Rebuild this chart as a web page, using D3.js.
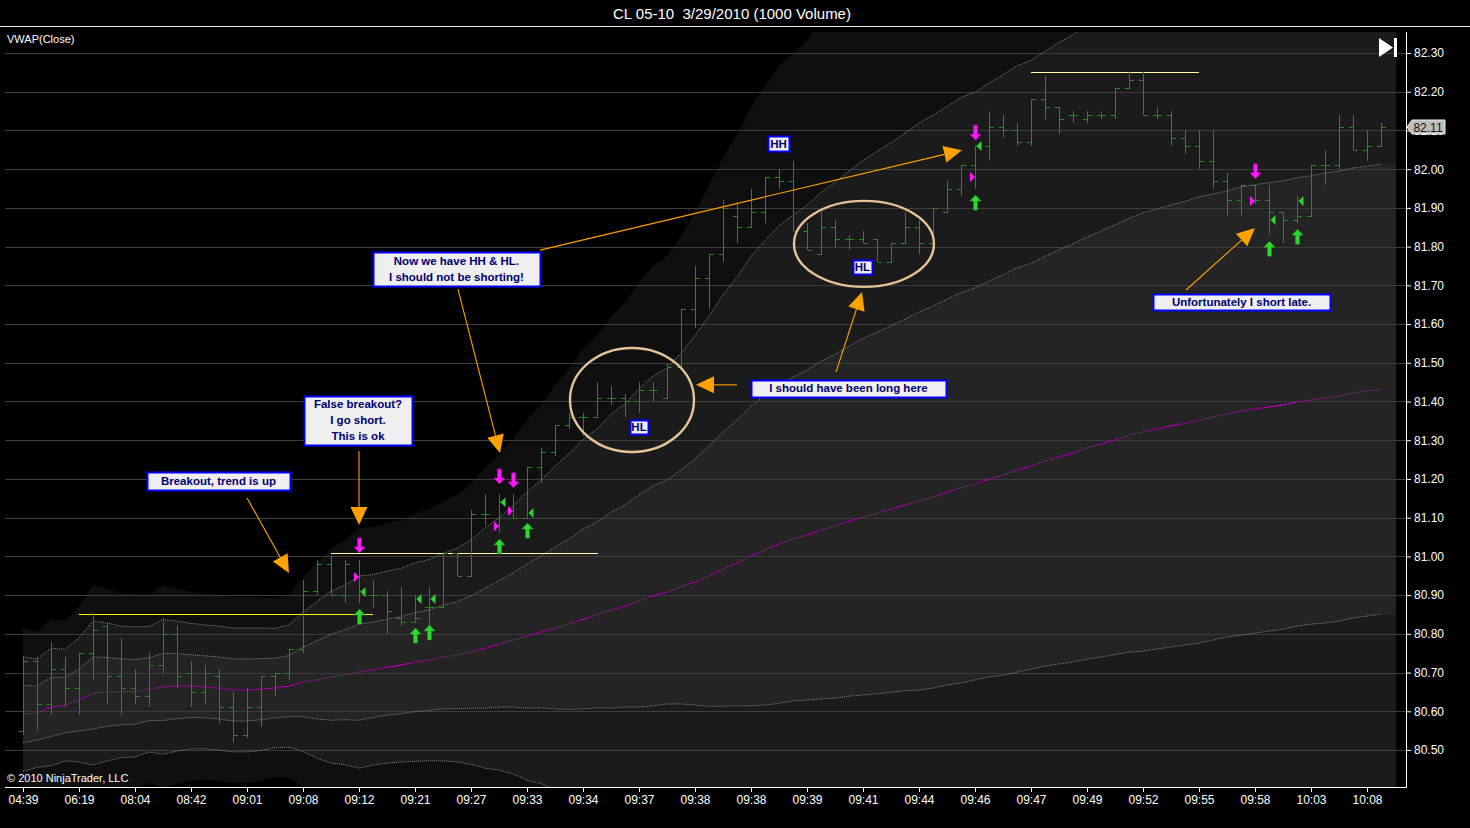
<!DOCTYPE html>
<html><head><meta charset="utf-8">
<script src="https://cdn.jsdelivr.net/npm/d3@7"></script>
<style>
html,body{margin:0;padding:0;background:#000;overflow:hidden;}
svg{display:block;}
</style></head><body>
<svg id="c" width="1470" height="828"></svg>
<script>
// ---------------- DATA ----------------
const chartTitle = "CL 05-10  3/29/2010 (1000 Volume)";
const indicatorLabel = "VWAP(Close)";
const copyrightLabel = "\u00A9 2010 NinjaTrader, LLC";

const opens = [80.55,80.73,80.62,80.71,80.66,80.75,80.82,80.69,80.66,80.64, 80.72,80.80,80.70,80.65,80.69,80.61,80.54,80.61,80.69,80.70,
  80.76,80.91,80.98,80.90,80.95,80.90,80.90,80.84,80.83,80.87, 80.87,81.01,80.95,81.11,81.08,81.12,81.10,81.23,81.27,81.34,
  81.36,81.36,81.41,81.41,81.40,81.43,81.41,81.49,81.64,81.72, 81.78,81.88,81.85,81.89,81.98,81.97,81.84,81.78,81.85,81.82,
  81.82,81.82,81.76,81.81,81.85,81.81,81.89,81.95,82.01,82.06, 82.11,82.10,82.07,82.18,82.16,82.14,82.13,82.14,82.14,82.21,
  82.23,82.14,82.14,82.08,82.06,82.02,81.97,81.92,81.96,81.92, 81.89,81.87,81.88,82.01,82.01,82.11,82.05,82.06];
const highs = [80.74,80.74,80.78,80.74,80.75,80.85,80.83,80.79,80.71,80.75, 80.84,80.82,80.73,80.72,80.71,80.65,80.66,80.69,80.70,80.76,
  80.94,80.99,81.00,80.99,80.99,80.94,80.91,80.92,80.90,80.92, 81.01,81.01,81.12,81.16,81.16,81.16,81.23,81.28,81.34,81.37,
  81.37,81.45,81.44,81.42,81.45,81.45,81.50,81.64,81.75,81.78, 81.92,81.91,81.95,81.98,82.00,82.02,81.86,81.89,81.87,81.83,
  81.84,81.82,81.81,81.89,81.87,81.90,81.97,82.01,82.06,82.15, 82.14,82.12,82.18,82.24,82.16,82.15,82.15,82.15,82.21,82.25,
  82.25,82.16,82.15,82.10,82.10,82.10,81.99,81.96,81.96,81.96, 81.89,81.93,82.01,82.05,82.14,82.14,82.10,82.12];
const lows = [80.54,80.55,80.59,80.61,80.59,80.68,80.62,80.59,80.62,80.61, 80.70,80.66,80.61,80.62,80.57,80.52,80.53,80.56,80.64,80.68,
  80.75,80.90,80.90,80.88,80.88,80.87,80.80,80.82,80.83,80.81, 80.87,80.95,80.95,81.08,81.06,81.10,81.10,81.19,81.26,81.33,
  81.31,81.36,81.39,81.36,81.37,81.40,81.41,81.49,81.59,81.64, 81.76,81.81,81.85,81.86,81.95,81.84,81.79,81.78,81.80,81.79,
  81.81,81.76,81.76,81.81,81.78,81.78,81.89,81.93,81.95,82.02, 82.08,82.06,82.06,82.13,82.09,82.12,82.12,82.13,82.13,82.21,
  82.14,82.13,82.06,82.04,82.00,81.95,81.88,81.88,81.91,81.83, 81.81,81.86,81.88,81.96,82.00,82.05,82.02,82.06];
const closes = [80.73,80.62,80.71,80.66,80.75,80.81,80.69,80.66,80.64,80.72, 80.80,80.69,80.65,80.70,80.61,80.54,80.61,80.69,80.70,80.76,
  80.91,80.98,80.90,80.98,80.91,80.90,80.86,80.83,80.84,80.87, 81.01,80.95,81.11,81.11,81.14,81.10,81.23,81.27,81.34,81.36,
  81.36,81.41,81.41,81.40,81.43,81.43,81.49,81.64,81.72,81.78, 81.90,81.85,81.89,81.98,81.97,81.84,81.79,81.85,81.82,81.82,
  81.81,81.76,81.81,81.85,81.81,81.90,81.95,82.01,82.06,82.11, 82.10,82.07,82.18,82.16,82.13,82.14,82.14,82.14,82.21,82.23,
  82.14,82.14,82.08,82.06,82.02,81.97,81.92,81.96,81.92,81.89, 81.87,81.88,82.01,82.01,82.11,82.05,82.06,82.11];

const vwap = [80.593,80.595,80.611,80.616,80.629,80.647,80.650,80.650,80.650,80.657, 80.663,80.665,80.665,80.663,80.660,80.655,80.655,80.657,80.660,80.665,
  80.676,80.681,80.688,80.694,80.701,80.707,80.714,80.719,80.727,80.732, 80.740,80.745,80.753,80.763,80.774,80.784,80.794,80.805,80.815,80.825,
  80.838,80.849,80.861,80.872,80.885,80.898,80.908,80.921,80.934,80.949, 80.967,80.983,81.001,81.016,81.032,81.045,81.055,81.068,81.078,81.091,
  81.102,81.112,81.122,81.133,81.143,81.153,81.166,81.177,81.187,81.200, 81.210,81.223,81.233,81.246,81.257,81.267,81.280,81.290,81.301,81.313,
  81.321,81.329,81.337,81.344,81.352,81.360,81.368,81.375,81.381,81.386, 81.391,81.399,81.404,81.409,81.414,81.422,81.427,81.432];
const vwapDev = [0.074,0.070,0.076,0.072,0.080,0.093,0.089,0.085,0.084,0.081, 0.087,0.084,0.081,0.080,0.080,0.080,0.080,0.079,0.077,0.079,
  0.090,0.101,0.111,0.116,0.124,0.123,0.124,0.125,0.128,0.130, 0.134,0.138,0.145,0.155,0.163,0.173,0.186,0.196,0.209,0.220,
  0.232,0.240,0.253,0.261,0.274,0.284,0.289,0.302,0.318,0.336, 0.354,0.369,0.387,0.400,0.411,0.418,0.426,0.436,0.444,0.452,
  0.460,0.467,0.473,0.480,0.488,0.493,0.498,0.504,0.506,0.511, 0.517,0.522,0.524,0.529,0.535,0.540,0.545,0.550,0.555,0.560,
  0.566,0.568,0.571,0.573,0.576,0.576,0.576,0.579,0.579,0.579, 0.579,0.579,0.579,0.581,0.581,0.581,0.581,0.581];

const xTickBars = [0,4,8,12,16,20,24,28,32,36,40,44,48,52,56,60,64,68,72,76,80,84,88,92,96];
const xTickLabels = ["04:39","06:19","08:04","08:42","09:01","09:08","09:12","09:21","09:27","09:33","09:34","09:37","09:38",
  "09:38","09:39","09:41","09:44","09:46","09:47","09:49","09:52","09:55","09:58","10:03","10:08"];
const yTickValues = [80.5,80.6,80.7,80.8,80.9,81.0,81.1,81.2,81.3,81.4,81.5,81.6,81.7,81.8,81.9,82.0,82.1,82.2,82.3];
const lastPrice = 82.11;

// trade markers (bar index, price)
const shortArrowBars = [24,34,35,68,88];
const shortArrowPrices = [81.009,81.187,81.177,82.075,81.975];
const coverArrowBars = [24,28,29,34,36,68,89,91];
const coverArrowPrices = [80.864,80.815,80.823,81.045,81.086,81.933,81.814,81.845];
const entryBars = [24,34,35,68,88];
const entryPrices = [80.947,81.078,81.117,81.980,81.918];
const exitBars = [24,28,29,34,36,68,89,91];
const exitPrices = [80.908,80.890,80.890,81.140,81.112,82.060,81.869,81.918];

// drawn horizontal levels
const levelPrices = [80.85,81.01,82.25];
const levelFromBar = [4,22,72];
const levelToBar = [25,41.07,84];

// text notes, anchored at (bar, price)
const noteTexts = [["Breakout, trend is up"],["False breakout?","I go short.","This is ok"],["Now we have HH & HL.","I should not be shorting!"],
  ["HH"],["HL"],["HL"],["I should have been long here"],["Unfortunately I short late."]];
const noteBars = [13.96,23.93,30.96,53.96,44.0,59.96,58.96,87.04];
const notePrices = [81.195,81.351,81.742,82.066,81.334,81.747,81.434,81.657];

// arrows from (bar, price) to (bar, price)
const arrowFromBars = [16.0,24,31.07,36.93,51.0,58.07,83.07];
const arrowFromPrices = [81.151,81.272,81.690,81.791,81.443,81.476,81.688];
const arrowToBars = [19.0,24,34.07,67.07,48.07,59.93,88.0];
const arrowToPrices = [80.957,81.081,81.267,82.049,81.443,81.683,81.848];

// circled areas, centre (bar, price)
const circleBars = [43.5,60.07];
const circlePrices = [81.404,81.807];

// ---------------- LAYOUT / STYLE ----------------
const W = 1470, H = 828;
const P = {left:3, right:1406, top:32, bottom:787};
const noteSizes = [[143,18],[108,49],[167,34],[21,15],[18,14],[19,14],[195,17],[177,16]];
const circleRadii = [[62,52],[70,43]];
const FONT = '"Liberation Sans", Arial, sans-serif';

const n = opens.length;
const x = d3.scaleLinear().domain([0, n - 1]).range([23, 1381]);
const y = d3.scaleLinear().domain([80.5, 82.3]).range([750, 53]);

const svg = d3.select('#c');
svg.append('rect').attr('width', W).attr('height', H).attr('fill', '#000');

svg.append('defs').append('clipPath').attr('id', 'plotclip')
  .append('rect').attr('x', P.left).attr('y', P.top).attr('width', P.right - P.left).attr('height', P.bottom - P.top);

// title + top rule
svg.append('text').attr('x', 732).attr('y', 19).attr('text-anchor', 'middle').attr('fill', '#fff')
  .style('font', '15px ' + FONT).style('white-space', 'pre').text(chartTitle);
svg.append('line').attr('x1', 0).attr('x2', W).attr('y1', 26.5).attr('y2', 26.5).attr('stroke', '#e8e8e8');

const plot = svg.append('g').attr('clip-path', 'url(#plotclip)');

// VWAP deviation bands (fills)
const bandPts = d3.range(n).map(i => ({px: x(i), v: vwap[i], s: vwapDev[i]}));
bandPts.push({px: 1396, v: vwap[n - 1], s: vwapDev[n - 1]});
const bandFill = [[3, '#0f0f0f'], [2, '#1b1b1b'], [1, '#242424']];
bandFill.forEach(([k, col]) => {
  plot.append('path').datum(bandPts)
    .attr('d', d3.area().x(d => d.px).y0(d => y(d.v - k * d.s)).y1(d => y(d.v + k * d.s)))
    .attr('fill', col);
});

// grid
plot.append('g').selectAll('line').data(yTickValues).join('line')
  .attr('x1', 5).attr('x2', P.right).attr('y1', d => Math.round(y(d)) + 0.5).attr('y2', d => Math.round(y(d)) + 0.5)
  .attr('stroke', '#3d3d3d').attr('stroke-width', 1);

// band lines
const linePts = d3.range(n).map(i => ({px: x(i), v: vwap[i], s: vwapDev[i]}));
[2, 1, -1, -2].forEach(k => {
  plot.append('path').datum(linePts)
    .attr('d', d3.line().x(d => d.px).y(d => y(d.v + k * d.s)))
    .attr('fill', 'none').attr('stroke', '#858585').attr('stroke-width', 1).attr('stroke-dasharray', '1 1');
});
plot.append('path').datum(linePts)
  .attr('d', d3.line().x(d => d.px).y(d => y(d.v)))
  .attr('fill', 'none').attr('stroke', '#d200d2').attr('stroke-width', 1.2).attr('stroke-dasharray', '1 1');

// level lines
plot.append('g').selectAll('line').data(levelPrices).join('line')
  .attr('x1', (d, i) => x(levelFromBar[i])).attr('x2', (d, i) => x(levelToBar[i]))
  .attr('y1', d => Math.round(y(d)) + 0.5).attr('y2', d => Math.round(y(d)) + 0.5)
  .attr('stroke', (d, i) => i === 0 ? '#ffff00' : '#ffffb0').attr('stroke-width', 1.2);

// OHLC bars
const barG = plot.append('g').attr('stroke', '#1a8f1a').attr('stroke-width', 1).attr('shape-rendering', 'crispEdges');
const bars = barG.selectAll('g').data(d3.range(n)).join('g');
bars.append('line').attr('x1', i => x(i) + 0.5).attr('x2', i => x(i) + 0.5).attr('y1', i => y(highs[i])).attr('y2', i => y(lows[i]));
bars.append('line').attr('x1', i => x(i) - 4).attr('x2', i => x(i) + 0.5).attr('y1', i => Math.round(y(opens[i])) + 0.5).attr('y2', i => Math.round(y(opens[i])) + 0.5);
bars.append('line').attr('x1', i => x(i) + 0.5).attr('x2', i => x(i) + 5).attr('y1', i => Math.round(y(closes[i])) + 0.5).attr('y2', i => Math.round(y(closes[i])) + 0.5);

// ellipses
plot.append('g').selectAll('ellipse').data(circleBars).join('ellipse')
  .attr('cx', (d, i) => x(d)).attr('cy', (d, i) => y(circlePrices[i]))
  .attr('rx', (d, i) => circleRadii[i][0]).attr('ry', (d, i) => circleRadii[i][1])
  .attr('fill', 'none').attr('stroke', '#e6c397').attr('stroke-width', 2.4);

// trade markers
function arrowPath(cx, tipY, dir) { // dir 1 = pointing down, -1 = pointing up
  const s = dir;
  return `M${cx},${tipY} L${cx - 5.5},${tipY - s * 6} L${cx - 2},${tipY - s * 6} L${cx - 2},${tipY - s * 15} L${cx + 2},${tipY - s * 15} L${cx + 2},${tipY - s * 6} L${cx + 5.5},${tipY - s * 6} Z`;
}
const mk = plot.append('g');
mk.selectAll('path.sh').data(shortArrowBars).join('path').attr('class', 'sh')
  .attr('d', (d, i) => arrowPath(x(d) + 0.5, y(shortArrowPrices[i]), 1)).attr('fill', '#ff1aff').attr('stroke', '#c000c0').attr('stroke-width', 0.6);
mk.selectAll('path.cv').data(coverArrowBars).join('path').attr('class', 'cv')
  .attr('d', (d, i) => arrowPath(x(d) + 0.5, y(coverArrowPrices[i]), -1)).attr('fill', '#2fd62f').attr('stroke', '#1ea01e').attr('stroke-width', 0.6);
mk.selectAll('path.en').data(entryBars).join('path').attr('class', 'en')
  .attr('d', (d, i) => { const cx = x(d), cy = y(entryPrices[i]); return `M${cx - 5},${cy - 5} L${cx},${cy} L${cx - 5},${cy + 5} Z`; })
  .attr('fill', '#ff1aff');
mk.selectAll('path.ex').data(exitBars).join('path').attr('class', 'ex')
  .attr('d', (d, i) => { const cx = x(d) + 1.5, cy = y(exitPrices[i]); return `M${cx + 5},${cy - 5} L${cx},${cy} L${cx + 5},${cy + 5} Z`; })
  .attr('fill', '#2fd62f');

// orange arrows
const ag = svg.append('g');
arrowFromBars.forEach((b, i) => {
  const x0 = x(b), y0 = y(arrowFromPrices[i]), x1 = x(arrowToBars[i]), y1 = y(arrowToPrices[i]);
  const dx = x1 - x0, dy = y1 - y0, L = Math.hypot(dx, dy), ux = dx / L, uy = dy / L;
  const hl = 18, hw = 8.5;
  const bx = x1 - ux * hl, by = y1 - uy * hl;
  ag.append('line').attr('x1', x0).attr('y1', y0).attr('x2', bx).attr('y2', by).attr('stroke', '#ffa200').attr('stroke-width', 1.1);
  ag.append('path').attr('d', `M${x1},${y1} L${bx - uy * hw},${by + ux * hw} L${bx + uy * hw},${by - ux * hw} Z`).attr('fill', '#ffa200');
});

// note boxes
const ng = svg.append('g');
noteTexts.forEach((lines, i) => {
  const cx = x(noteBars[i]), cy = y(notePrices[i]);
  const [w, h] = noteSizes[i];
  ng.append('rect').attr('x', Math.round(cx - w / 2) + 0.5).attr('y', Math.round(cy - h / 2) + 0.5).attr('width', w).attr('height', h)
    .attr('fill', '#efefef').attr('stroke', '#0000ff').attr('stroke-width', 2);
  const lh = 16;
  lines.forEach((t, j) => {
    ng.append('text').attr('x', cx).attr('y', cy + (j - (lines.length - 1) / 2) * lh + 4)
      .attr('text-anchor', 'middle').attr('fill', '#000070')
      .style('font', 'bold 11.5px ' + FONT).text(t);
  });
});

// indicator + copyright labels
svg.append('text').attr('x', 7).attr('y', 43).attr('fill', '#fff').style('font', '11px ' + FONT).text(indicatorLabel);
svg.append('text').attr('x', 7).attr('y', 782).attr('fill', '#fff').style('font', '11px ' + FONT).text(copyrightLabel);

// scroll-to-end icon
svg.append('path').attr('d', 'M1379,38 L1379,57 L1393,47.5 Z').attr('fill', '#fff');
svg.append('rect').attr('x', 1394).attr('y', 38).attr('width', 3).attr('height', 19).attr('fill', '#fff');

// Y axis
const yAxis = svg.append('g').attr('transform', `translate(${P.right},0)`)
  .call(d3.axisRight(y).tickValues(yTickValues).tickSize(5).tickPadding(3).tickFormat(d3.format('.2f')));
yAxis.select('.domain').remove();
yAxis.selectAll('line').attr('stroke', '#fff');
yAxis.selectAll('text').attr('fill', '#fff').style('font', '12px ' + FONT);
svg.append('line').attr('x1', P.right + 0.5).attr('x2', P.right + 0.5).attr('y1', P.top).attr('y2', P.bottom + 1).attr('stroke', '#fff');

// X axis
const xAxis = svg.append('g').attr('transform', `translate(0,${P.bottom})`)
  .call(d3.axisBottom(x).tickValues(xTickBars).tickSize(5).tickPadding(3).tickFormat((d, i) => xTickLabels[i]));
xAxis.select('.domain').remove();
xAxis.selectAll('line').attr('stroke', '#fff');
xAxis.selectAll('text').attr('fill', '#fff').style('font', '12px ' + FONT);
svg.append('line').attr('x1', 5).attr('x2', P.right + 1).attr('y1', P.bottom + 0.5).attr('y2', P.bottom + 0.5).attr('stroke', '#fff');

// last price marker (drawn over the axis, as in the platform)
const ly = Math.round(y(lastPrice));
svg.append('path').attr('d', `M${P.right + 1},${ly} L${P.right + 6},${ly - 7} L${P.right + 39},${ly - 7} L${P.right + 39},${ly + 7} L${P.right + 6},${ly + 7} Z`)
  .attr('fill', '#bdbdbd').attr('stroke', '#eeeeee').attr('stroke-width', 1);
svg.append('text').attr('x', P.right + 22).attr('y', ly + 4.5).attr('text-anchor', 'middle').attr('fill', '#111')
  .style('font', '12px ' + FONT).text(lastPrice.toFixed(2));
</script>
</body></html>
